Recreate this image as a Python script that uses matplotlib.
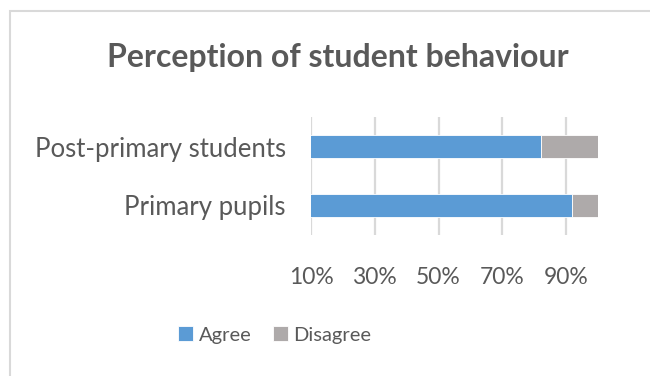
import matplotlib
matplotlib.use("Agg")
import matplotlib.pyplot as plt
from matplotlib.patches import Rectangle
from matplotlib.ticker import FixedLocator, PercentFormatter

# survey shares, bottom row first
groups = ["Primary pupils", "Post-primary students"]
agree = [0.92, 0.82]
disagree = [0.08, 0.18]
x_ticks = [0.1, 0.3, 0.5, 0.7, 0.9]

BLUE = "#5B9BD5"
GREY = "#AEAAAA"
TEXT = "#595959"
GRID = "#D9D9D9"

plt.rcParams["font.family"] = ["Lato", "DejaVu Sans"]

fig = plt.figure(figsize=(6.5, 3.76), dpi=100)
ax = fig.add_axes([311 / 650, 1 - 235 / 376, 287 / 650, 118 / 376])

# chart frame, running off the right and bottom of the image
fig.patches.append(Rectangle((10, -100), 700, 465, transform=None, fill=False,
                             edgecolor=GRID, linewidth=1.5))

ypos = range(len(groups))
ax.barh(ypos, agree, height=0.39, color=BLUE, edgecolor="white",
        linewidth=0.6, label="Agree", zorder=3)
ax.barh(ypos, disagree, left=agree, height=0.39, color=GREY,
        edgecolor="white", linewidth=0.6, label="Disagree", zorder=3)

ax.set_xlim(0.1, 1.0)
ax.set_ylim(-0.5, 1.5)
ax.xaxis.set_major_locator(FixedLocator(x_ticks))
ax.xaxis.set_major_formatter(PercentFormatter(1.0, decimals=0))
ax.set_yticks(list(ypos))
ax.set_yticklabels(groups)
ax.grid(axis="x", color=GRID, linewidth=1.6, zorder=0)
for side in ax.spines.values():
    side.set_visible(False)
ax.tick_params(axis="both", length=0, colors=TEXT)
ax.tick_params(axis="x", pad=23, labelsize=16.5)
ax.tick_params(axis="y", pad=18, labelsize=18.5)

fig.text(338 / 650, 1 - 58 / 376, "Perception of student behaviour",
         ha="center", va="center", fontsize=23, fontweight="bold", color=TEXT)

fig.legend(loc="center", bbox_to_anchor=(275 / 650, 1 - 335 / 376), ncol=2,
           frameon=False, fontsize=14.5, labelcolor=TEXT, handlelength=0.7,
           handleheight=0.7, handletextpad=0.3, columnspacing=1.1)

fig.savefig("out.png", dpi=100)
